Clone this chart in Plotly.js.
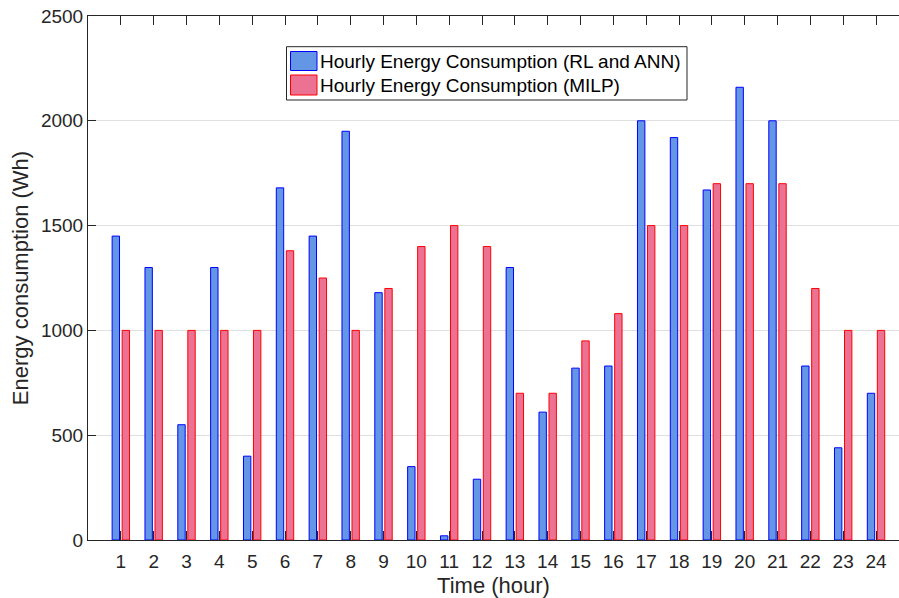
<!DOCTYPE html>
<html>
<head>
<meta charset="utf-8">
<script src="https://cdn.plot.ly/plotly-3.0.1.min.js"></script>
<style>html,body{margin:0;padding:0;background:#fff;}#chart{width:899px;height:598px;}</style>
</head>
<body>
<div id="chart"></div>
<script>
const hours = [1,2,3,4,5,6,7,8,9,10,11,12,13,14,15,16,17,18,19,20,21,22,23,24];
const rlAnn = [1450,1300,550,1300,400,1680,1450,1950,1180,350,20,290,1300,610,820,830,2000,1920,1670,2160,2000,830,440,700];
const milp = [1000,1000,1000,1000,1000,1380,1250,1000,1200,1400,1500,1400,700,700,950,1080,1500,1500,1700,1700,1700,1200,1000,1000];
const seriesNames = ['Hourly Energy Consumption (RL and ANN)', 'Hourly Energy Consumption (MILP)'];
const yTicks = [0,500,1000,1500,2000,2500];

const font = 'Liberation Sans, Arial, sans-serif';
const L = 88, R = 899, T = 16, B = 540;
const px = v => (v - L) / (R - L);
const py = v => (B - v) / (B - T);

const traces = [
  {type:'bar', x:hours, y:rlAnn, name:seriesNames[0], width:0.225, offset:-0.265,
   marker:{color:'rgb(100,150,230)', line:{color:'#0000ff', width:1}}, showlegend:false},
  {type:'bar', x:hours, y:milp, name:seriesNames[1], width:0.225, offset:0.04,
   marker:{color:'rgb(236,114,148)', line:{color:'#ff0000', width:1}}, showlegend:false}
];

const layout = {
  width:899, height:598,
  margin:{l:L, r:899-R, t:T, b:598-B},
  paper_bgcolor:'#fff', plot_bgcolor:'#fff',
  barmode:'overlay',
  font:{family:font, color:'#262626'},
  xaxis:{range:[0,24.70], tickvals:hours, ticktext:hours.map(String),
    ticks:'inside', ticklen:9, tickcolor:'#262626', tickwidth:1,
    showline:true, linecolor:'#262626', linewidth:1, mirror:'ticks',
    showgrid:false, zeroline:false, tickfont:{size:19, color:'#262626'}, ticklabelstandoff:4,
    title:{text:'Time (hour)', font:{size:22, color:'#262626'}, standoff:6}},
  yaxis:{range:[0,2500], tickvals:yTicks, ticks:'inside', ticklen:8, tickcolor:'#262626',
    showline:true, linecolor:'#262626', linewidth:1, mirror:false,
    showgrid:true, gridcolor:'rgb(223,223,223)', gridwidth:1, zeroline:false,
    tickfont:{size:19, color:'#262626'}, ticklabelstandoff:0,
    title:{text:'Energy consumption (Wh)', font:{size:22, color:'#262626'}, standoff:6}},
  shapes:[
    {type:'rect', xref:'paper', yref:'paper', x0:px(286.5), x1:px(687), y0:py(100), y1:py(46.7),
     line:{color:'#262626', width:1}, fillcolor:'#fff'},
    {type:'rect', xref:'paper', yref:'paper', x0:px(290.5), x1:px(317), y0:py(70.5), y1:py(51.5),
     line:{color:'#0000ff', width:1}, fillcolor:'rgb(100,150,230)'},
    {type:'rect', xref:'paper', yref:'paper', x0:px(290.5), x1:px(317), y0:py(95), y1:py(75),
     line:{color:'#ff0000', width:1}, fillcolor:'rgb(236,114,148)'}
  ],
  annotations:[
    {xref:'paper', yref:'paper', x:px(318), y:py(62), xanchor:'left', yanchor:'middle', showarrow:false,
     text:seriesNames[0], font:{size:19, color:'#000', family:font}},
    {xref:'paper', yref:'paper', x:px(318), y:py(86), xanchor:'left', yanchor:'middle', showarrow:false,
     text:seriesNames[1], font:{size:19, color:'#000', family:font}}
  ]
};

Plotly.newPlot('chart', traces, layout, {displayModeBar:false, staticPlot:true});
</script>
</body>
</html>
